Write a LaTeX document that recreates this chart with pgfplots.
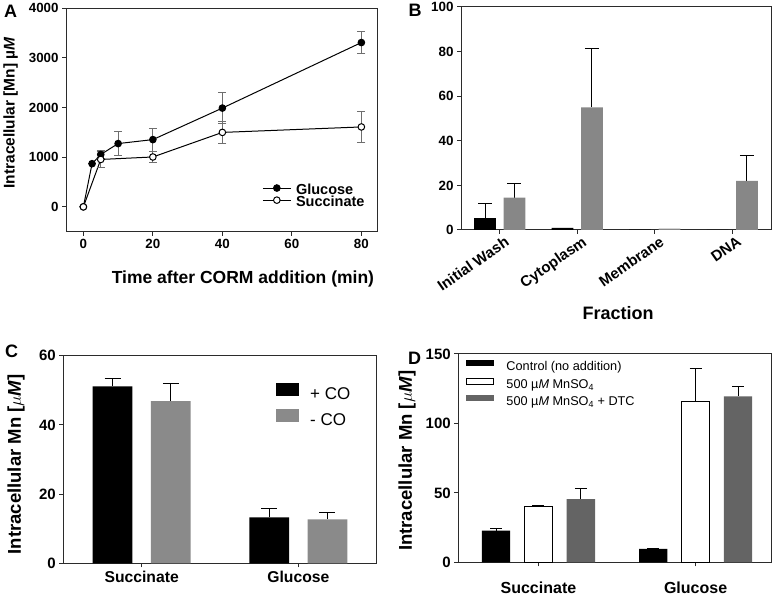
\documentclass[border=0pt]{standalone}
\usepackage{pgfplots}
\pgfplotsset{compat=1.18}
\usepackage{fontspec}
\setmainfont{Liberation Sans}

\definecolor{gB}{HTML}{878787}
\definecolor{gC}{HTML}{8A8A8A}
\definecolor{gD}{HTML}{646464}
\definecolor{ebA}{HTML}{6E6E6E}
\definecolor{axc}{HTML}{2B2B2B}

\newcommand{\fs}[1]{\fontsize{#1}{#1}\selectfont}

\pgfplotsset{
  base/.style={scale only axis, anchor=south west,
    axis line style={axc, line width=1pt},
    tick style={axc, line width=1pt},
    tick align=outside, major tick length=4pt,
    xtick pos=bottom, ytick pos=left,
    /pgf/number format/assume math mode=true,
    /pgf/number format/1000 sep={},
    legend cell align=left},
  lineleg/.style={legend image code/.code={\draw[mark repeat=2,mark phase=2,##1] plot coordinates {(0pt,4pt) (14pt,4pt) (28pt,4pt)};}},
  cleg/.style={legend image code/.code={\fill[##1] (0pt,1pt) rectangle (23pt,14pt);}},
  dleg/.style={legend image code/.code={\fill[##1] (0pt,1.5pt) rectangle (28pt,7.5pt);}},
  dlegw/.style={legend image code/.code={\draw[##1] (0.5pt,1.5pt) rectangle (27.5pt,7.5pt);}},
  ebar/.style={draw=none, mark=none, forget plot,
    error bars/.cd, y dir=plus, y explicit,
    error bar style={draw=black, line width=1pt},
    error mark options={rotate=90, mark size=#1, draw=black, line width=1pt}},
}

\begin{document}
\begin{tikzpicture}[x=1pt,y=1pt]
\path[use as bounding box] (0,0) rectangle (777,596);

% ---------------- Panel A ----------------
\begin{axis}[base, at={(66pt,364.3pt)}, width=311pt, height=223.4pt,
  xmin=-5, xmax=84.5, ymin=-500, ymax=4000,
  xtick={0,20,40,60,80}, ytick={0,1000,2000,3000,4000},
  ticklabel style={font=\fs{13.3}\bfseries},
  xlabel={Time after CORM addition (min)},
  xlabel style={font=\fs{17.5}\bfseries, at={(axis description cs:0.569,-0.212)}, anchor=center},
  ylabel={Intracellular [Mn] µ\textit{M}},
  ylabel style={font=\fs{15.5}\bfseries, at={(axis description cs:-0.178,0.532)}, anchor=center},
  legend style={draw=none, fill=none, at={(axis description cs:0.621,0.22)}, anchor=north west,
    font=\fs{14.5}\bfseries, nodes={inner sep=0pt, text height=0.75em, text depth=0.25em}, row sep=-0.2pt,
    /tikz/every odd column/.append style={column sep=4.7pt}},
]
\addplot[black, line width=1pt, mark=*, mark size=3.3pt, mark options={fill=black, draw=black}, lineleg,
  error bars/.cd, y dir=both, y explicit,
  error bar style={ebA, line width=1pt}, error mark options={rotate=90, mark size=4pt, ebA, line width=1pt}]
  coordinates {(0,0) +- (0,0) (2.5,870) +- (0,0) (5,1055) +- (0,80) (10,1275) +- (0,250)
               (20,1355) +- (0,230) (40,1990) +- (0,310) (80,3310) +- (0,220)};
\addlegendentry{Glucose}
\addplot[black, line width=1pt, mark=*, mark size=3.3pt, mark options={fill=white, draw=black}, lineleg,
  error bars/.cd, y dir=both, y explicit,
  error bar style={ebA, line width=1pt}, error mark options={rotate=90, mark size=4pt, ebA, line width=1pt}]
  coordinates {(0,0) +- (0,0) (5,955) +- (0,170) (20,1005) +- (0,110) (40,1500) +- (0,215) (80,1610) +- (0,320)};
\addlegendentry{Succinate}
\end{axis}

% ---------------- Panel B ----------------
\begin{axis}[base, at={(461pt,366pt)}, width=310pt, height=223pt,
  xmin=-0.5, xmax=3.5, ymin=0, ymax=100,
  xtick={0,1,2,3}, xticklabels={Initial Wash, Cytoplasm, Membrane, DNA},
  ytick={0,20,40,60,80,100},
  yticklabel style={font=\fs{13.4}\bfseries},
  xticklabel style={font=\fs{15}\bfseries, rotate=35, anchor=north east, xshift=6pt},
  xlabel={Fraction},
  xlabel style={font=\fs{18}\bfseries, at={(axis description cs:0.507,-0.372)}, anchor=center},
]
\addplot[ebar=7pt] coordinates {(-0.19,5.3) +- (0,6.8)};
\addplot[ebar=7pt] coordinates {(0.19,14.5) +- (0,6.3) (1.19,55) +- (0,26.3) (3.19,22) +- (0,11.2)};
\addplot[ybar, bar width=0.28, bar shift=-0.19, fill=black, draw=none]
  coordinates {(0,5.3) (1,0.9) (2,0.15) (3,0)};
\addplot[ybar, bar width=0.28, bar shift=0.19, fill=gB, draw=none]
  coordinates {(0,14.5) (1,55) (2,0.6) (3,22)};
\end{axis}

% ---------------- Panel C ----------------
\begin{axis}[base, at={(63.3pt,32.7pt)}, width=313.4pt, height=207.6pt,
  xmin=-0.5, xmax=1.5, ymin=0, ymax=60,
  xtick={0,1}, xticklabels={Succinate, Glucose},
  ytick={0,20,40,60},
  yticklabel style={font=\fs{15}\bfseries},
  xticklabel style={font=\fs{15.7}\bfseries},
  ylabel={Intracellular Mn [$\mu$\textit{M}]},
  ylabel style={font=\fs{18.5}\bfseries, at={(axis description cs:-0.151,0.477)}, anchor=center},
  legend style={draw=none, fill=none, at={(axis description cs:0.668,0.88)}, anchor=north west,
    font=\fs{17}, nodes={inner sep=0pt, text height=0.75em, text depth=0.25em}, row sep=7pt,
    /tikz/every odd column/.append style={column sep=11.3pt}},
]
\addplot[ebar=8pt] coordinates {(-0.186,51.1) +- (0,2.2) (0.814,13.3) +- (0,2.5)};
\addplot[ebar=8pt] coordinates {(0.186,46.9) +- (0,5.1) (1.186,12.7) +- (0,2.1)};
\addplot[ybar, bar width=0.254, bar shift=-0.186, fill=black, draw=none, cleg]
  coordinates {(0,51.1) (1,13.3)};
\addlegendentry{+ CO}
\addplot[ybar, bar width=0.254, bar shift=0.186, fill=gC, draw=none, cleg]
  coordinates {(0,46.9) (1,12.7)};
\addlegendentry{- CO}
\end{axis}

% ---------------- Panel D ----------------
\begin{axis}[base, at={(458.3pt,33.7pt)}, width=312.7pt, height=208.3pt,
  xmin=-0.51, xmax=1.48, ymin=0, ymax=150,
  xtick={0,1}, xticklabels={Succinate, Glucose},
  ytick={0,50,100,150},
  yticklabel style={font=\fs{15}\bfseries},
  xticklabel style={font=\fs{16}\bfseries, yshift=-12pt},
  ylabel={Intracellular Mn [$\mu$\textit{M}]},
  ylabel style={font=\fs{18.5}\bfseries, at={(axis description cs:-0.164,0.487)}, anchor=center},
  legend style={draw=none, fill=none, at={(axis description cs:0.014,0.98)}, anchor=north west,
    font=\fs{12.7}, nodes={inner sep=0pt, text height=0.75em, text depth=0.25em}, row sep=4.8pt,
    /tikz/every odd column/.append style={column sep=12.6pt}},
]
\addplot[ebar=6pt] coordinates {(-0.27,22.8) +- (0,1.4) (0.73,9.6) +- (0,0.5)};
\addplot[ebar=6pt] coordinates {(0,40.1) +- (0,0.7) (1,115.7) +- (0,23.7)};
\addplot[ebar=6pt] coordinates {(0.27,45.4) +- (0,7.4) (1.27,119.5) +- (0,7.0)};
\addplot[ybar, bar width=0.18, bar shift=-0.27, fill=black, draw=none, dleg]
  coordinates {(0,22.8) (1,9.6)};
\addlegendentry{Control (no addition)}
\addplot[ybar, bar width=0.18, bar shift=0, fill=white, draw=black, line width=1pt, dlegw]
  coordinates {(0,40.1) (1,115.7)};
\addlegendentry{500 µ\textit{M} MnSO\textsubscript{4}}
\addplot[ybar, bar width=0.18, bar shift=0.27, fill=gD, draw=none, dleg]
  coordinates {(0,45.4) (1,119.5)};
\addlegendentry{500 µ\textit{M} MnSO\textsubscript{4} + DTC}
\end{axis}

% panel letters
\node[font=\fs{18}\bfseries, anchor=base] at (10.5,578) {A};
\node[font=\fs{18}\bfseries, anchor=base] at (415,579) {B};
\node[font=\fs{18}\bfseries, anchor=base] at (11.5,238) {C};
\node[font=\fs{18}\bfseries, anchor=base] at (414.5,231) {D};
\end{tikzpicture}
\end{document}
